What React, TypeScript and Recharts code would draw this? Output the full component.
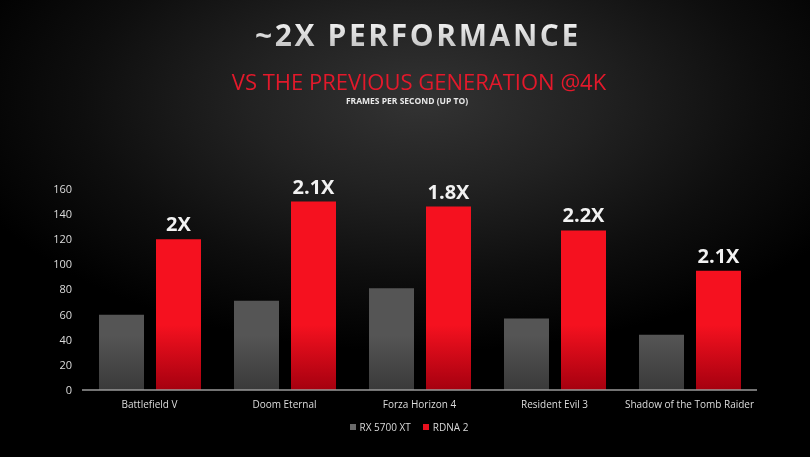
import { BarChart, Bar, XAxis, YAxis, LabelList } from 'recharts'

const games = ['Battlefield V', 'Doom Eternal', 'Forza Horizon 4', 'Resident Evil 3', 'Shadow of the Tomb Raider']
const rx5700xt = [60, 71, 81, 57, 44]
const rdna2 = [120, 150, 146, 127, 95]
const uplift = ['2X', '2.1X', '1.8X', '2.2X', '2.1X']
const yTicks = [0, 20, 40, 60, 80, 100, 120, 140, 160]

const chartData = games.map((name, i) => ({
  name,
  rx: rx5700xt[i],
  rdna: rdna2[i],
  uplift: uplift[i],
}))

const font = '"Open Sans", "Noto Sans", sans-serif'

// legend sits under the axis labels, drawn as plain html
function LegendBox() {
  const item = (color: string, label: string) => (
    <span style={{ display: 'inline-flex', alignItems: 'center', margin: '0 6px' }}>
      <span style={{ width: 6, height: 6, background: color, marginRight: 4, display: 'inline-block' }} />
      {label}
    </span>
  )
  return (
    <div
      style={{
        position: 'absolute',
        top: 419,
        left: 0,
        width: 818,
        textAlign: 'center',
        color: '#d8d8d8',
        fontSize: 10,
      }}
    >
      {item('#6a6a6a', 'RX 5700 XT')}
      {item('#e8101e', 'RDNA 2')}
    </div>
  )
}

export default function App() {
  return (
    <div
      style={{
        position: 'fixed',
        top: 0,
        left: 0,
        width: 810,
        height: 457,
        overflow: 'hidden',
        fontFamily: font,
        background:
          'radial-gradient(ellipse 60% 55% at 52% 22%, #333 0%, #222 35%, #0e0e0e 70%, #000 100%)',
      }}
    >
      <div
        style={{
          position: 'absolute',
          top: 14,
          left: 0,
          width: 836,
          textAlign: 'center',
          fontSize: 30,
          fontWeight: 700,
          letterSpacing: 2.6,
          background: 'linear-gradient(#ffffff, #b8b8b8)',
          WebkitBackgroundClip: 'text',
          color: 'transparent',
        }}
      >
        ~2X PERFORMANCE
      </div>
      <div
        style={{
          position: 'absolute',
          top: 66,
          left: 0,
          width: 838,
          textAlign: 'center',
          fontSize: 22,
          fontWeight: 400,
          color: '#e3192b',
        }}
      >
        VS THE PREVIOUS GENERATION @4K
      </div>
      <div
        style={{
          position: 'absolute',
          top: 95,
          left: 0,
          width: 814,
          textAlign: 'center',
          fontSize: 8.5,
          fontWeight: 700,
          color: '#e8e8e8',
        }}
      >
        FRAMES PER SECOND (UP TO)
      </div>
      <BarChart
        width={810}
        height={457}
        data={chartData}
        margin={{ top: 189, right: 53, left: 18, bottom: 37 }}
        barGap={12}
        barCategoryGap={17}
        style={{ position: 'absolute', top: 0, left: 0 }}
      >
        <defs>
          <linearGradient id="redFill" gradientUnits="userSpaceOnUse" x1="0" y1="325" x2="0" y2="390">
            <stop offset="0%" stopColor="#f5111f" />
            <stop offset="100%" stopColor="#a5000f" />
          </linearGradient>
          <linearGradient id="grayFill" gradientUnits="userSpaceOnUse" x1="0" y1="335" x2="0" y2="390">
            <stop offset="0%" stopColor="#555555" />
            <stop offset="100%" stopColor="#3a3a3a" />
          </linearGradient>
        </defs>
        <XAxis
          dataKey="name"
          tick={{ fill: '#dcdcdc', fontSize: 10 }}
          axisLine={{ stroke: '#9a9a9a', strokeWidth: 1.5 }}
          tickLine={false}
          tickMargin={5}
          height={30}
        />
        <YAxis
          domain={[0, 160]}
          ticks={yTicks}
          tick={{ fill: '#dcdcdc', fontSize: 11 }}
          axisLine={false}
          tickLine={false}
          tickMargin={4}
          width={64}
          interval={0}
        />
        <Bar dataKey="rx" name="RX 5700 XT" fill="url(#grayFill)" isAnimationActive={false} />
        <Bar dataKey="rdna" name="RDNA 2" fill="url(#redFill)" isAnimationActive={false}>
          <LabelList
            dataKey="uplift"
            position="top"
            offset={8}
            style={{ fill: '#f2f2f2', fontSize: 20, fontWeight: 700 }}
          />
        </Bar>
      </BarChart>
      <LegendBox />
    </div>
  )
}
